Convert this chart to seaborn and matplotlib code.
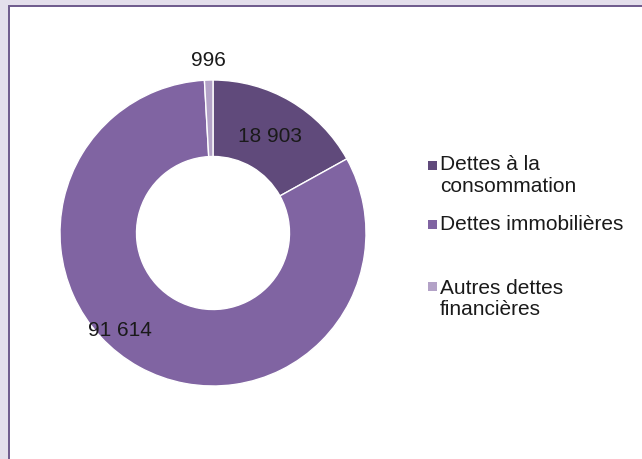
import matplotlib
matplotlib.use("Agg")
import matplotlib.pyplot as plt
from matplotlib.patches import Rectangle
import seaborn as sns
import numpy as np

categories = ["Dettes à la\nconsommation", "Dettes immobilières", "Autres dettes\nfinancières"]
values = [18903, 91614, 996]
value_labels = ["18 903", "91 614", "996"]
colors = ["#604A7B", "#8064A2", "#B3A2C7"]

sns.set_theme(style="white")
plt.rcParams['font.family'] = ['Liberation Sans', 'DejaVu Sans']

W, H = 642, 459
fig = plt.figure(figsize=(W / 100, H / 100), dpi=100)
fig.patch.set_facecolor("#E4DFEC")

# inner white panel with purple border
panel = Rectangle((9 / W, -0.05), 1.2, (H - 6) / H + 0.05, transform=fig.transFigure,
                  facecolor="white", edgecolor="#6E5A8C", linewidth=1.4, zorder=-10)
fig.patches.append(panel)

cx, cy, r = 213, 233, 153
ax = fig.add_axes([(cx - r) / W, (H - cy - r) / H, 2 * r / W, 2 * r / H])
ax.set_zorder(2)
ax.set_facecolor("none")
wedges, _ = ax.pie(values, colors=colors, startangle=90, counterclock=False,
                   radius=1.0, wedgeprops=dict(width=0.5, edgecolor="white", linewidth=1.0))
ax.set_xlim(-1, 1)
ax.set_ylim(-1, 1)
ax.set_aspect("equal")
ax.axis("off")

FS = 15

# data labels: (radius, angle offset in degrees from wedge middle)
label_pos = [(0.73, 0.0), (0.88, -15.0), (1.13, 0.0)]
for w, lab, (rad, off) in zip(wedges, value_labels, label_pos):
    ang = np.deg2rad((w.theta1 + w.theta2) / 2 + off)
    ax.text(rad * np.cos(ang), rad * np.sin(ang), lab, ha="center", va="center",
            fontsize=FS, color="#1a1a1a", clip_on=False)

# legend (manual, Excel-like spacing)
legend_centers = [175.5, 224, 299]
marker_tops = [161, 220, 282]
for lab, col, yc, mt in zip(categories, colors, legend_centers, marker_tops):
    fig.patches.append(Rectangle((428 / W, 1 - (mt + 9) / H), 9 / W, 9 / H,
                                 transform=fig.transFigure, facecolor=col,
                                 edgecolor="none", zorder=3))
    fig.text(440 / W, 1 - yc / H, lab, ha="left", va="center", fontsize=FS,
             color="#1a1a1a", linespacing=1.15, zorder=3)

fig.savefig("out.png", dpi=100, facecolor=fig.get_facecolor())
